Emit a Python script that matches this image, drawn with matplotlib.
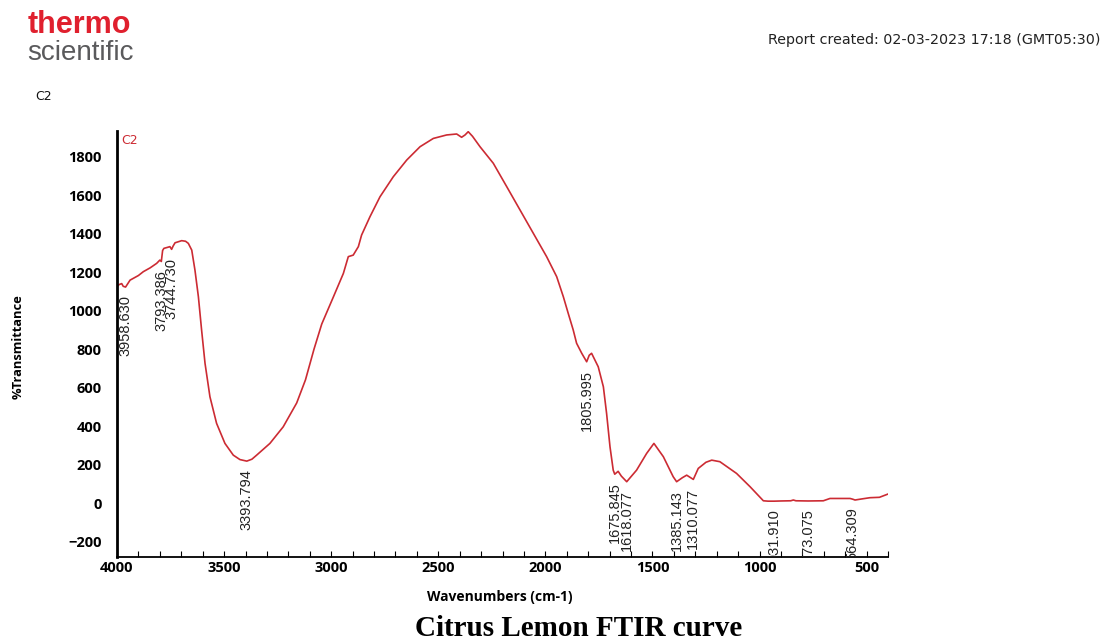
import numpy as np
import matplotlib
matplotlib.use("Agg")
import matplotlib.pyplot as plt
from matplotlib.ticker import MultipleLocator

# Spectrum (wavenumber cm-1, %Transmittance)
wavenumber = [4000, 3990, 3978, 3971, 3960, 3939, 3900, 3877, 3845, 3815, 3800, 3793,
              3787, 3781, 3765, 3753, 3745, 3738, 3729, 3712, 3698, 3680, 3667, 3651,
              3636, 3620, 3605, 3589, 3566, 3535, 3496, 3457, 3426, 3394, 3370, 3348,
              3286, 3224, 3161, 3120, 3080, 3044, 2990, 2943, 2920, 2897, 2873, 2858, 2819,
              2772, 2710, 2647, 2585, 2523, 2461, 2414, 2391, 2375, 2360, 2340, 2305,
              2243, 2180, 2118, 2056, 1994, 1947, 1916, 1893, 1870, 1854, 1830, 1807,
              1795, 1784, 1753, 1729, 1714, 1698, 1683, 1676, 1660, 1645, 1620, 1574,
              1527, 1493, 1449, 1403, 1387, 1360, 1340, 1309, 1286, 1250, 1223, 1185,
              1107, 1044, 982, 960, 932, 900, 854, 842, 830, 773, 702, 671, 620, 577,
              564, 554, 520, 484, 440, 400]
transmittance = [1125, 1135, 1140, 1126, 1122, 1158, 1182, 1202, 1222, 1245, 1262, 1255,
                 1312, 1323, 1328, 1332, 1318, 1335, 1352, 1358, 1363, 1360, 1349, 1314,
                 1210, 1072, 899, 726, 552, 414, 310, 249, 226, 218, 228, 249,
                 310, 396, 520, 640, 800, 930, 1070, 1193, 1280, 1288, 1332, 1392, 1487,
                 1591, 1695, 1782, 1851, 1894, 1912, 1917, 1900, 1912, 1929, 1905, 1851,
                 1765, 1643, 1522, 1401, 1280, 1176, 1072, 985, 900, 830, 778, 734,
                 768, 778, 708, 604, 466, 292, 171, 150, 165, 140, 111, 171,
                 258, 310, 241, 137, 111, 132, 145, 123, 180, 212, 223, 215,
                 154, 85, 12, 10, 10, 11, 12, 16, 12, 11, 12, 24, 24, 24,
                 20, 16, 22, 28, 30, 47]

# Peak labels
peak_labels = ["3958.630", "3793.386", "3744.730", "3393.794", "1805.995", "1675.845",
               "1618.077", "1385.143", "1310.077", "931.910", "773.075", "564.309"]
peak_positions = [3958.630, 3793.386, 3744.730, 3393.794, 1805.995, 1675.845,
                  1618.077, 1385.143, 1310.077, 931.910, 773.075, 564.309]

xticks = [4000, 3500, 3000, 2500, 2000, 1500, 1000, 500]
yticks = [-200, 0, 200, 400, 600, 800, 1000, 1200, 1400, 1600, 1800]

red = "#cc2b33"

fig = plt.figure(figsize=(11.15, 6.43), dpi=100)
ax = fig.add_axes([117/1115, 1-557/643, (888-117)/1115, (557-131.5)/643])

ax.plot(wavenumber, transmittance, color=red, lw=1.2)
ax.set_xlim(4000, 400)
ax.set_ylim(-280, 1930)

for lab, pos in zip(peak_labels, peak_positions):
    yv = np.interp(pos, wavenumber[::-1], transmittance[::-1])
    ax.annotate(lab, xy=(pos, yv), xytext=(0, -6), textcoords="offset points",
                rotation=90, ha="center", va="top", fontsize=10.5,
                family="Liberation Sans", color="#222222", clip_on=True,
                annotation_clip=False)

for s in ["top", "right"]:
    ax.spines[s].set_visible(False)
ax.spines["left"].set_linewidth(2.0)
ax.spines["bottom"].set_linewidth(1.3)

ax.set_xticks(xticks)
ax.set_yticks(yticks)
ax.xaxis.set_minor_locator(MultipleLocator(100))
ax.tick_params(axis="x", which="both", direction="in", length=4, width=0.8, pad=3)
ax.tick_params(axis="y", which="both", length=0, pad=11)
for lbl in ax.get_xticklabels() + ax.get_yticklabels():
    lbl.set_fontfamily("Open Sans")
    lbl.set_fontweight("bold")
    lbl.set_fontsize(10.5)

ax.text(0.006, 0.995, "C2", transform=ax.transAxes, color=red, fontsize=9,
        family="DejaVu Sans", ha="left", va="top")

fig.text(18/1115, 1-347/643, "%Transmittance", rotation=90, ha="center", va="center",
         fontsize=9.3, fontweight="bold", family="Open Sans")
fig.text(500/1115, 1-597/643, "Wavenumbers (cm-1)", ha="center", va="center",
         fontsize=10, fontweight="bold", family="Open Sans")
fig.text(579/1115, 1-628/643, "Citrus Lemon FTIR curve", ha="center", va="center",
         fontsize=21, fontweight="bold", family="Liberation Serif")

fig.text(28/1115, 1-25/643, "thermo", ha="left", va="center", fontsize=22,
         fontweight="bold", family="Liberation Sans", color="#e0202e")
fig.text(27/1115, 1-53/643, "scientific", ha="left", va="center", fontsize=20,
         family="Liberation Sans", color="#5a5a5c")
fig.text(35/1115, 1-97/643, "C2", ha="left", va="center", fontsize=9,
         family="DejaVu Sans", color="#111111")
fig.text(1100/1115, 1-40/643, "Report created: 02-03-2023 17:18 (GMT05:30)",
         ha="right", va="center", fontsize=10.3, family="DejaVu Sans", color="#222222")

fig.savefig("out.png", dpi=100)
